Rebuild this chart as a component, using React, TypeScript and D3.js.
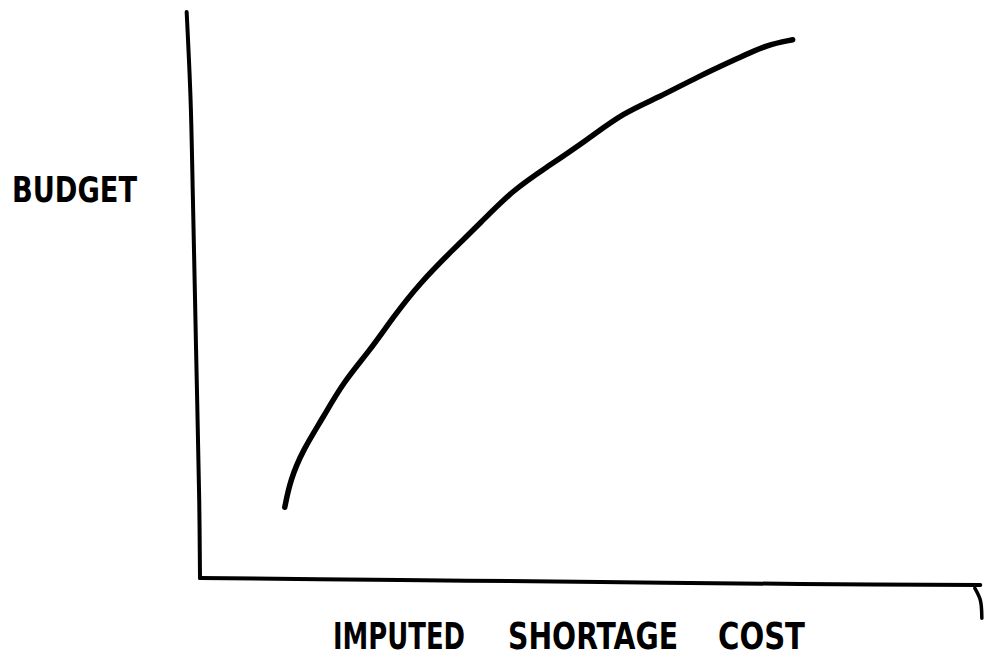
import React from "react";
import * as d3 from "d3";

// Curve (hand-drawn): imputed shortage cost vs budget, 0-100 units
const costValues = [10.8, 11.5, 13.1, 15.7, 18.2, 21.7, 24.6, 28.0, 32.2, 35.7, 39.9, 44.2, 49.3, 53.9, 58.6, 63.3, 68.8, 72.2, 75.5];
const budgetValues = [12.5, 17.3, 22.6, 28.4, 34.5, 40.3, 46.1, 52.1, 58.0, 62.7, 68.6, 72.6, 77.4, 82.2, 85.0, 88.5, 92.0, 94.2, 95.1];

// Hand-drawn axis strokes (data units)
const yAxisX = [-1.7, -1.2, -0.9, -0.5, -0.1, 0];
const yAxisY = [100, 84.5, 66.8, 40.3, 13.8, 0];
const xAxisX = [0, 25.5, 51, 76.4, 99.4];
const xAxisY = [0, -0.35, -0.7, -1.06, -1.24];
const hookX = [98.7, 99.4, 99.6];
const hookY = [-1.8, -3.9, -7.1];

const xLabelWords = ["IMPUTED", "SHORTAGE", "COST"];
const yLabel = "BUDGET";

export default function App() {
  const width = 986;
  const height = 659;
  const x = d3.scaleLinear().domain([0, 100]).range([200, 985]);
  const y = d3.scaleLinear().domain([0, 100]).range([578, 12]);

  const smooth = d3
    .line<[number, number]>()
    .x((d) => x(d[0]))
    .y((d) => y(d[1]))
    .curve(d3.curveBasis);
  const straight = d3
    .line<[number, number]>()
    .x((d) => x(d[0]))
    .y((d) => y(d[1]))
    .curve(d3.curveCatmullRom.alpha(0.5));

  const curvePts = costValues.map((c, i) => [c, budgetValues[i]] as [number, number]);
  const yAxisPts = yAxisX.map((v, i) => [v, yAxisY[i]] as [number, number]);
  const xAxisPts = xAxisX.map((v, i) => [v, xAxisY[i]] as [number, number]);
  const hookPts = hookX.map((v, i) => [v, hookY[i]] as [number, number]);

  const font = "'Liberation Sans Narrow', 'DejaVu Sans Condensed', sans-serif";
  const wordX = [333, 508, 718];
  const wordW = [132, 170, 87];

  return (
    <svg
      width={width}
      height={height}
      style={{ position: "absolute", left: 0, top: 0, background: "#fff" }}
    >
      <rect width={width} height={height} fill="#fff" />
      <path d={straight(yAxisPts) || ""} fill="none" stroke="#000" strokeWidth={4} strokeLinecap="round" />
      <path d={straight(xAxisPts) || ""} fill="none" stroke="#000" strokeWidth={4} strokeLinecap="round" />
      <path d={straight(hookPts) || ""} fill="none" stroke="#000" strokeWidth={3.5} strokeLinecap="round" />
      <path d={smooth(curvePts) || ""} fill="none" stroke="#000" strokeWidth={5.5} strokeLinecap="round" strokeLinejoin="round" />
      <text
        x={12}
        y={202}
        fontFamily={font}
        fontWeight="bold"
        fontSize={36}
        textLength={125}
        lengthAdjust="spacingAndGlyphs"
        fill="#000"
      >
        {yLabel}
      </text>
      {xLabelWords.map((w, i) => (
        <text
          key={w}
          x={wordX[i]}
          y={649}
          fontFamily={font}
          fontWeight="bold"
          fontSize={38}
          textLength={wordW[i]}
          lengthAdjust="spacingAndGlyphs"
          fill="#000"
        >
          {w}
        </text>
      ))}
    </svg>
  );
}
